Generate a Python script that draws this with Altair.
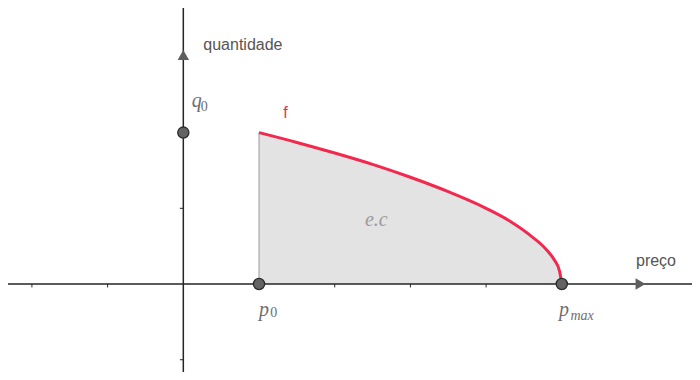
import altair as alt
import pandas as pd

# --- values (data units; 1 unit ~ 75.7 px) ---
curve_x = [1.0, 1.5, 2.0, 2.5, 3.0, 3.5, 4.0, 4.3, 4.6, 4.8, 4.9, 4.97, 5.0]
curve_y = [2.0, 1.87, 1.73, 1.58, 1.41, 1.22, 1.0, 0.84, 0.63, 0.45, 0.32, 0.17, 0.0]

point_names = ["q0", "p0", "pmax"]
point_x = [0, 1, 5]
point_y = [2, 0, 0]

xtick_vals = [-2, -1, 1, 2, 3, 4, 5, 6]
ytick_vals = [-1, 1, 2, 3]

x_lo, x_hi = -2.316, 6.720
y_lo, y_hi = -1.162, 3.646

main_labels = ["q", "p", "p"]
main_x = [0.111, 1.0, 4.962]
main_y = [2.338, -0.423, -0.423]
sub_labels = ["0", "0", "max"]
sub_x = [0.230, 1.150, 5.115]
sub_y = [2.285, -0.436, -0.476]
sub_style = ["normal", "normal", "italic"]

XS = alt.Scale(domain=[x_lo, x_hi], nice=False, zero=False)
YS = alt.Scale(domain=[y_lo, y_hi], nice=False, zero=False)


def X(f="x"):
    return alt.X(f, type="quantitative", scale=XS, axis=None)


def Y(f="y"):
    return alt.Y(f, type="quantitative", scale=YS, axis=None)


curve_df = pd.DataFrame({"x": curve_x, "y": curve_y, "y0": [0.0] * len(curve_x)})

area = alt.Chart(curve_df).mark_area(color="#e3e3e3", opacity=1, interpolate="monotone").encode(
    x=X(), y=Y(), y2="y0"
)

edge = alt.Chart(pd.DataFrame({"x": [curve_x[0]], "y": [0.0], "y2": [curve_y[0]]})).mark_rule(
    color="#9a9a9a", strokeWidth=1
).encode(x=X(), y=Y(), y2="y2")

xaxis = alt.Chart(pd.DataFrame({"x": [x_lo], "x2": [x_hi], "y": [0.0]})).mark_rule(
    color="#252525", strokeWidth=1.5
).encode(x=X(), x2="x2", y=Y())

yaxis = alt.Chart(pd.DataFrame({"x": [0.0], "y": [y_lo], "y2": [y_hi]})).mark_rule(
    color="#252525", strokeWidth=1.5
).encode(x=X(), y=Y(), y2="y2")

xticks = alt.Chart(pd.DataFrame({"x": xtick_vals, "y": [0.0] * len(xtick_vals),
                                 "y2": [-0.045] * len(xtick_vals)})).mark_rule(
    color="#252525", strokeWidth=1
).encode(x=X(), y=Y(), y2="y2")

yticks = alt.Chart(pd.DataFrame({"y": ytick_vals, "x": [0.0] * len(ytick_vals),
                                 "x2": [-0.045] * len(ytick_vals)})).mark_rule(
    color="#252525", strokeWidth=1
).encode(x=X(), x2="x2", y=Y())

curve = alt.Chart(curve_df).mark_line(color="#f2284f", strokeWidth=3, interpolate="monotone").encode(
    x=X(), y=Y()
)

points = alt.Chart(pd.DataFrame({"name": point_names, "x": point_x, "y": point_y})).mark_point(
    shape="circle", filled=True, fill="#636363", stroke="#2a2a2a", strokeWidth=1.3,
    size=125, opacity=1, fillOpacity=1, strokeOpacity=1
).encode(x=X(), y=Y())

arrow_up = alt.Chart(pd.DataFrame({"x": [0.0], "y": [3.025]})).mark_point(
    shape="triangle-up", filled=True, color="#5f5f5f", size=130, opacity=1
).encode(x=X(), y=Y())

arrow_right = alt.Chart(pd.DataFrame({"x": [6.04], "y": [0.0]})).mark_point(
    shape="triangle-right", filled=True, color="#5f5f5f", size=130, opacity=1
).encode(x=X(), y=Y())

axis_titles = alt.Chart(pd.DataFrame({"t": ["quantidade", "preço"], "x": [0.264, 5.98],
                                      "y": [3.091, 0.238]})).mark_text(
    align="left", baseline="alphabetic", font="Liberation Sans", fontSize=16, color="#555555"
).encode(x=X(), y=Y(), text="t")

f_label = alt.Chart(pd.DataFrame({"t": ["f"], "x": [1.35], "y": [2.197]})).mark_text(
    align="center", baseline="alphabetic", font="Liberation Sans", fontSize=16, color="#f2284f"
).encode(x=X(), y=Y(), text="t")

main_text = alt.Chart(pd.DataFrame({"t": main_labels, "x": main_x, "y": main_y})).mark_text(
    align="left", baseline="alphabetic", font="Liberation Serif", fontStyle="italic",
    fontSize=20, color="#6e6e6e"
).encode(x=X(), y=Y(), text="t")

sub_df = pd.DataFrame({"t": sub_labels, "x": sub_x, "y": sub_y, "s": sub_style})
sub_up = alt.Chart(sub_df[sub_df.s == "normal"]).mark_text(
    align="left", baseline="alphabetic", font="Liberation Serif", fontSize=14, color="#6e6e6e"
).encode(x=X(), y=Y(), text="t")
sub_it = alt.Chart(sub_df[sub_df.s == "italic"]).mark_text(
    align="left", baseline="alphabetic", font="Liberation Serif", fontStyle="italic",
    fontSize=14, color="#6e6e6e"
).encode(x=X(), y=Y(), text="t")

ec = alt.Chart(pd.DataFrame({"t": ["e.c"], "x": [2.40], "y": [0.766]})).mark_text(
    align="left", baseline="alphabetic", font="Liberation Serif", fontStyle="italic",
    fontSize=20, color="#9a9a9a"
).encode(x=X(), y=Y(), text="t")

chart = alt.layer(
    area, edge, xaxis, yaxis, xticks, yticks, curve, points, arrow_up, arrow_right,
    axis_titles, f_label, main_text, sub_up, sub_it, ec
).properties(
    width=684, height=364, padding=0, autosize=alt.AutoSizeParams(type="none"),
    background="white"
).configure_view(stroke=None)

chart.save("out.html", embed_options={"renderer": "svg", "actions": False})
